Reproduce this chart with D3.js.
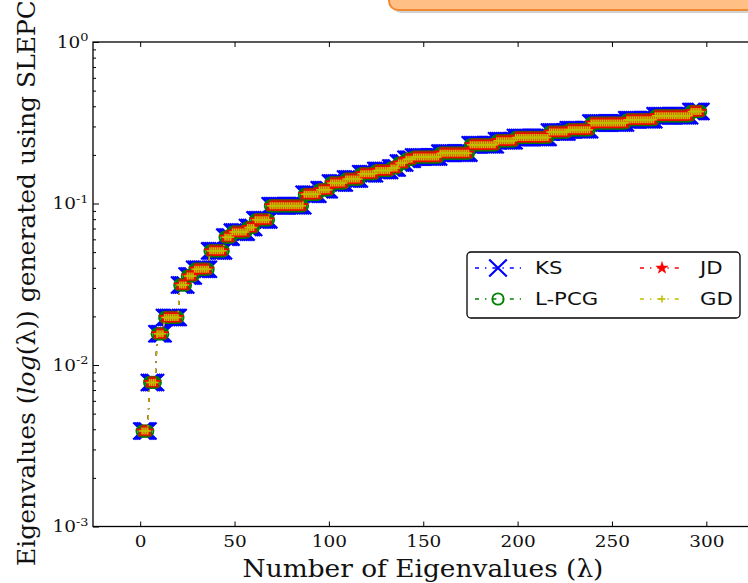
<!DOCTYPE html>
<html>
<head>
<meta charset="utf-8">
<script src="https://cdn.jsdelivr.net/npm/d3@7"></script>
<style>
  body { margin: 0; background: #fff; overflow: hidden; }
</style>
</head>
<body>
<script>
const width = 748;
const height = 583;

const xTicks = [0, 50, 100, 150, 200, 250, 300];
const yTicks = [1e-3, 1e-2, 1e-1, 1];
const yTickExp = ["-3", "-2", "-1", "0"];
const seriesNames = ["KS", "L-PCG", "JD", "GD"];
const seriesColors = ["#0000ff", "#008000", "#ff0000", "#bfbf00"];
const stepValues = [0.0039, 0.0078, 0.0156, 0.0197, 0.0313, 0.0356, 0.0392, 0.0509,
  0.0619, 0.0665, 0.071, 0.0792, 0.0968, 0.114, 0.1216, 0.134, 0.1417, 0.1528,
  0.16, 0.166, 0.178, 0.188, 0.194, 0.205, 0.231, 0.2445, 0.2565, 0.277, 0.286,
  0.315, 0.33, 0.349, 0.3715];
const stepCounts = [4, 4, 4, 8, 4, 4, 8, 8,
  4, 8, 4, 8, 18, 8, 6, 8, 8, 8,
  8, 4, 4, 4, 14, 16, 14, 10, 18, 10, 12,
  19, 15, 19, 6];

const data = [];
let n = 1;
stepValues.forEach((v, i) => {
  for (let k = 0; k < stepCounts[i]; k++) data.push({n: n++, value: v});
});

const x = d3.scaleLinear().domain([-25, 325]).range([93, 753.5]);
const y = d3.scaleLog().domain([1e-3, 1]).range([526.5, 42]);

// the original figure is a little wider than tall, text looks stretched sideways
const stretch = 1.12;

const svg = d3.select('body').append('svg')
  .attr('width', width).attr('height', height)
  .style('font-family', 'DejaVu Serif');

// orange note box peeking in at the top
svg.append('rect').attr('x', 392).attr('y', -40).attr('width', 420).attr('height', 53)
  .attr('rx', 9).attr('fill', '#999').attr('opacity', 0.45);
svg.append('rect').attr('x', 389).attr('y', -40).attr('width', 420).attr('height', 50)
  .attr('rx', 9).attr('fill', '#ffbf85').attr('stroke', '#ee8a33').attr('stroke-width', 2);

// markers
const markers = [
  s => s.append('path').attr('d', 'M-8.8,-8.5L8.8,8.5M-8.8,8.5L8.8,-8.5')
        .attr('stroke', seriesColors[0]).attr('stroke-width', 2.2).attr('fill', 'none'),
  s => s.append('circle').attr('r', 5.7)
        .attr('stroke', seriesColors[1]).attr('stroke-width', 1.8).attr('fill', 'none'),
  s => s.append('path').attr('d', d3.symbol(d3.symbolStar, 46)())
        .attr('fill', seriesColors[2]).attr('stroke', seriesColors[2]).attr('stroke-width', 0.5),
  s => s.append('path').attr('d', 'M-3.5,0H3.5M0,-3.5V3.5')
        .attr('stroke', seriesColors[3]).attr('stroke-width', 1.5).attr('fill', 'none')
];

const dash = '4,6,1.4,6';

const line = d3.line()
  .x(d => x(d.n))
  .y(d => y(d.value));

seriesNames.forEach((name, i) => {
  svg.append('path')
    .datum(data)
    .attr('fill', 'none')
    .attr('stroke', seriesColors[i])
    .attr('stroke-width', 1.4)
    .attr('stroke-dasharray', dash)
    .attr('d', line);
  svg.append('g').selectAll('g')
    .data(data)
    .join('g')
    .attr('transform', d => `translate(${x(d.n)},${y(d.value)})`)
    .each(function() { markers[i](d3.select(this)); });
});

// frame
svg.append('rect')
  .attr('x', x.range()[0]).attr('y', y.range()[1])
  .attr('width', x.range()[1] - x.range()[0])
  .attr('height', y.range()[0] - y.range()[1])
  .attr('fill', 'none').attr('stroke', '#000').attr('stroke-width', 1.3);

const xAxis = g => g
  .attr('transform', `translate(0,${y.range()[0]})`)
  .call(d3.axisBottom(x).tickValues(xTicks).tickSizeInner(-5).tickSizeOuter(0).tickPadding(9))
  .call(g => g.select('.domain').remove())
  .call(g => g.selectAll('text')
    .attr('font-family', 'DejaVu Serif').attr('font-size', 16.5).attr('fill', '#111')
    .attr('transform', `scale(${stretch},1)`));

const xTop = g => g
  .attr('transform', `translate(0,${y.range()[1]})`)
  .call(d3.axisTop(x).tickValues(xTicks).tickSizeInner(-5).tickSizeOuter(0).tickFormat(''))
  .call(g => g.select('.domain').remove());

const yAxis = g => g
  .attr('transform', `translate(${x.range()[0]},0)`)
  .call(d3.axisLeft(y).tickValues(yTicks).tickSizeInner(-6).tickSizeOuter(0).tickPadding(4).tickFormat(() => '10'))
  .call(g => g.select('.domain').remove())
  .call(g => g.selectAll('.tick text')
    .attr('font-family', 'DejaVu Serif').attr('font-size', 16.5).attr('fill', '#111')
    .attr('transform', `scale(${stretch},1)`)
    .each(function(d, i) {
      d3.select(this).append('tspan').attr('dy', '-0.55em').attr('font-size', 11.5)
        .text(yTickExp[i]);
    }));

const yMinor = g => g
  .attr('transform', `translate(${x.range()[0]},0)`)
  .call(d3.axisLeft(y).tickValues(y.ticks().filter(v => !yTicks.includes(v)))
    .tickSizeInner(-3).tickSizeOuter(0).tickFormat(''))
  .call(g => g.select('.domain').remove());

svg.append('g').call(xAxis);
svg.append('g').call(xTop);
svg.append('g').call(yAxis);
svg.append('g').call(yMinor);

// axis titles
svg.append('text')
  .attr('transform', `translate(423,577) scale(1.1,1)`)
  .attr('text-anchor', 'middle')
  .attr('font-size', 24).attr('fill', '#111')
  .text('Number of Eigenvalues (λ)');

const yTitle = svg.append('text')
  .attr('transform', 'translate(35,566) rotate(-90)')
  .attr('text-anchor', 'start')
  .attr('font-size', 25).attr('fill', '#111');
yTitle.append('tspan').text('Eigenvalues (');
yTitle.append('tspan').attr('font-style', 'italic').text('log');
yTitle.append('tspan').text('(λ)) generated using SLEPC');

// legend
const legend = svg.append('g').style('font-family', 'DejaVu Sans');
legend.append('rect')
  .attr('x', 467).attr('y', 252).attr('width', 273).attr('height', 66)
  .attr('rx', 4).attr('fill', '#fff').attr('stroke', '#000').attr('stroke-width', 1.3);

const legendPos = [
  {x0: 475, x1: 521, tx: 535, y: 268},
  {x0: 475, x1: 521, tx: 535, y: 299},
  {x0: 640, x1: 684, tx: 700, y: 268},
  {x0: 640, x1: 684, tx: 700, y: 299}
];
seriesNames.forEach((name, i) => {
  const p = legendPos[i];
  legend.append('line')
    .attr('x1', p.x0).attr('x2', p.x1).attr('y1', p.y).attr('y2', p.y)
    .attr('stroke', seriesColors[i]).attr('stroke-width', 1.4).attr('stroke-dasharray', dash);
  const m = legend.append('g').attr('transform', `translate(${(p.x0 + p.x1) / 2},${p.y})`);
  markers[i](m);
  legend.append('text')
    .attr('transform', `translate(${p.tx},${p.y}) scale(1.18,1)`)
    .attr('dy', '0.36em')
    .attr('font-size', 18).attr('fill', '#111')
    .text(name);
});
</script>
</body>
</html>
